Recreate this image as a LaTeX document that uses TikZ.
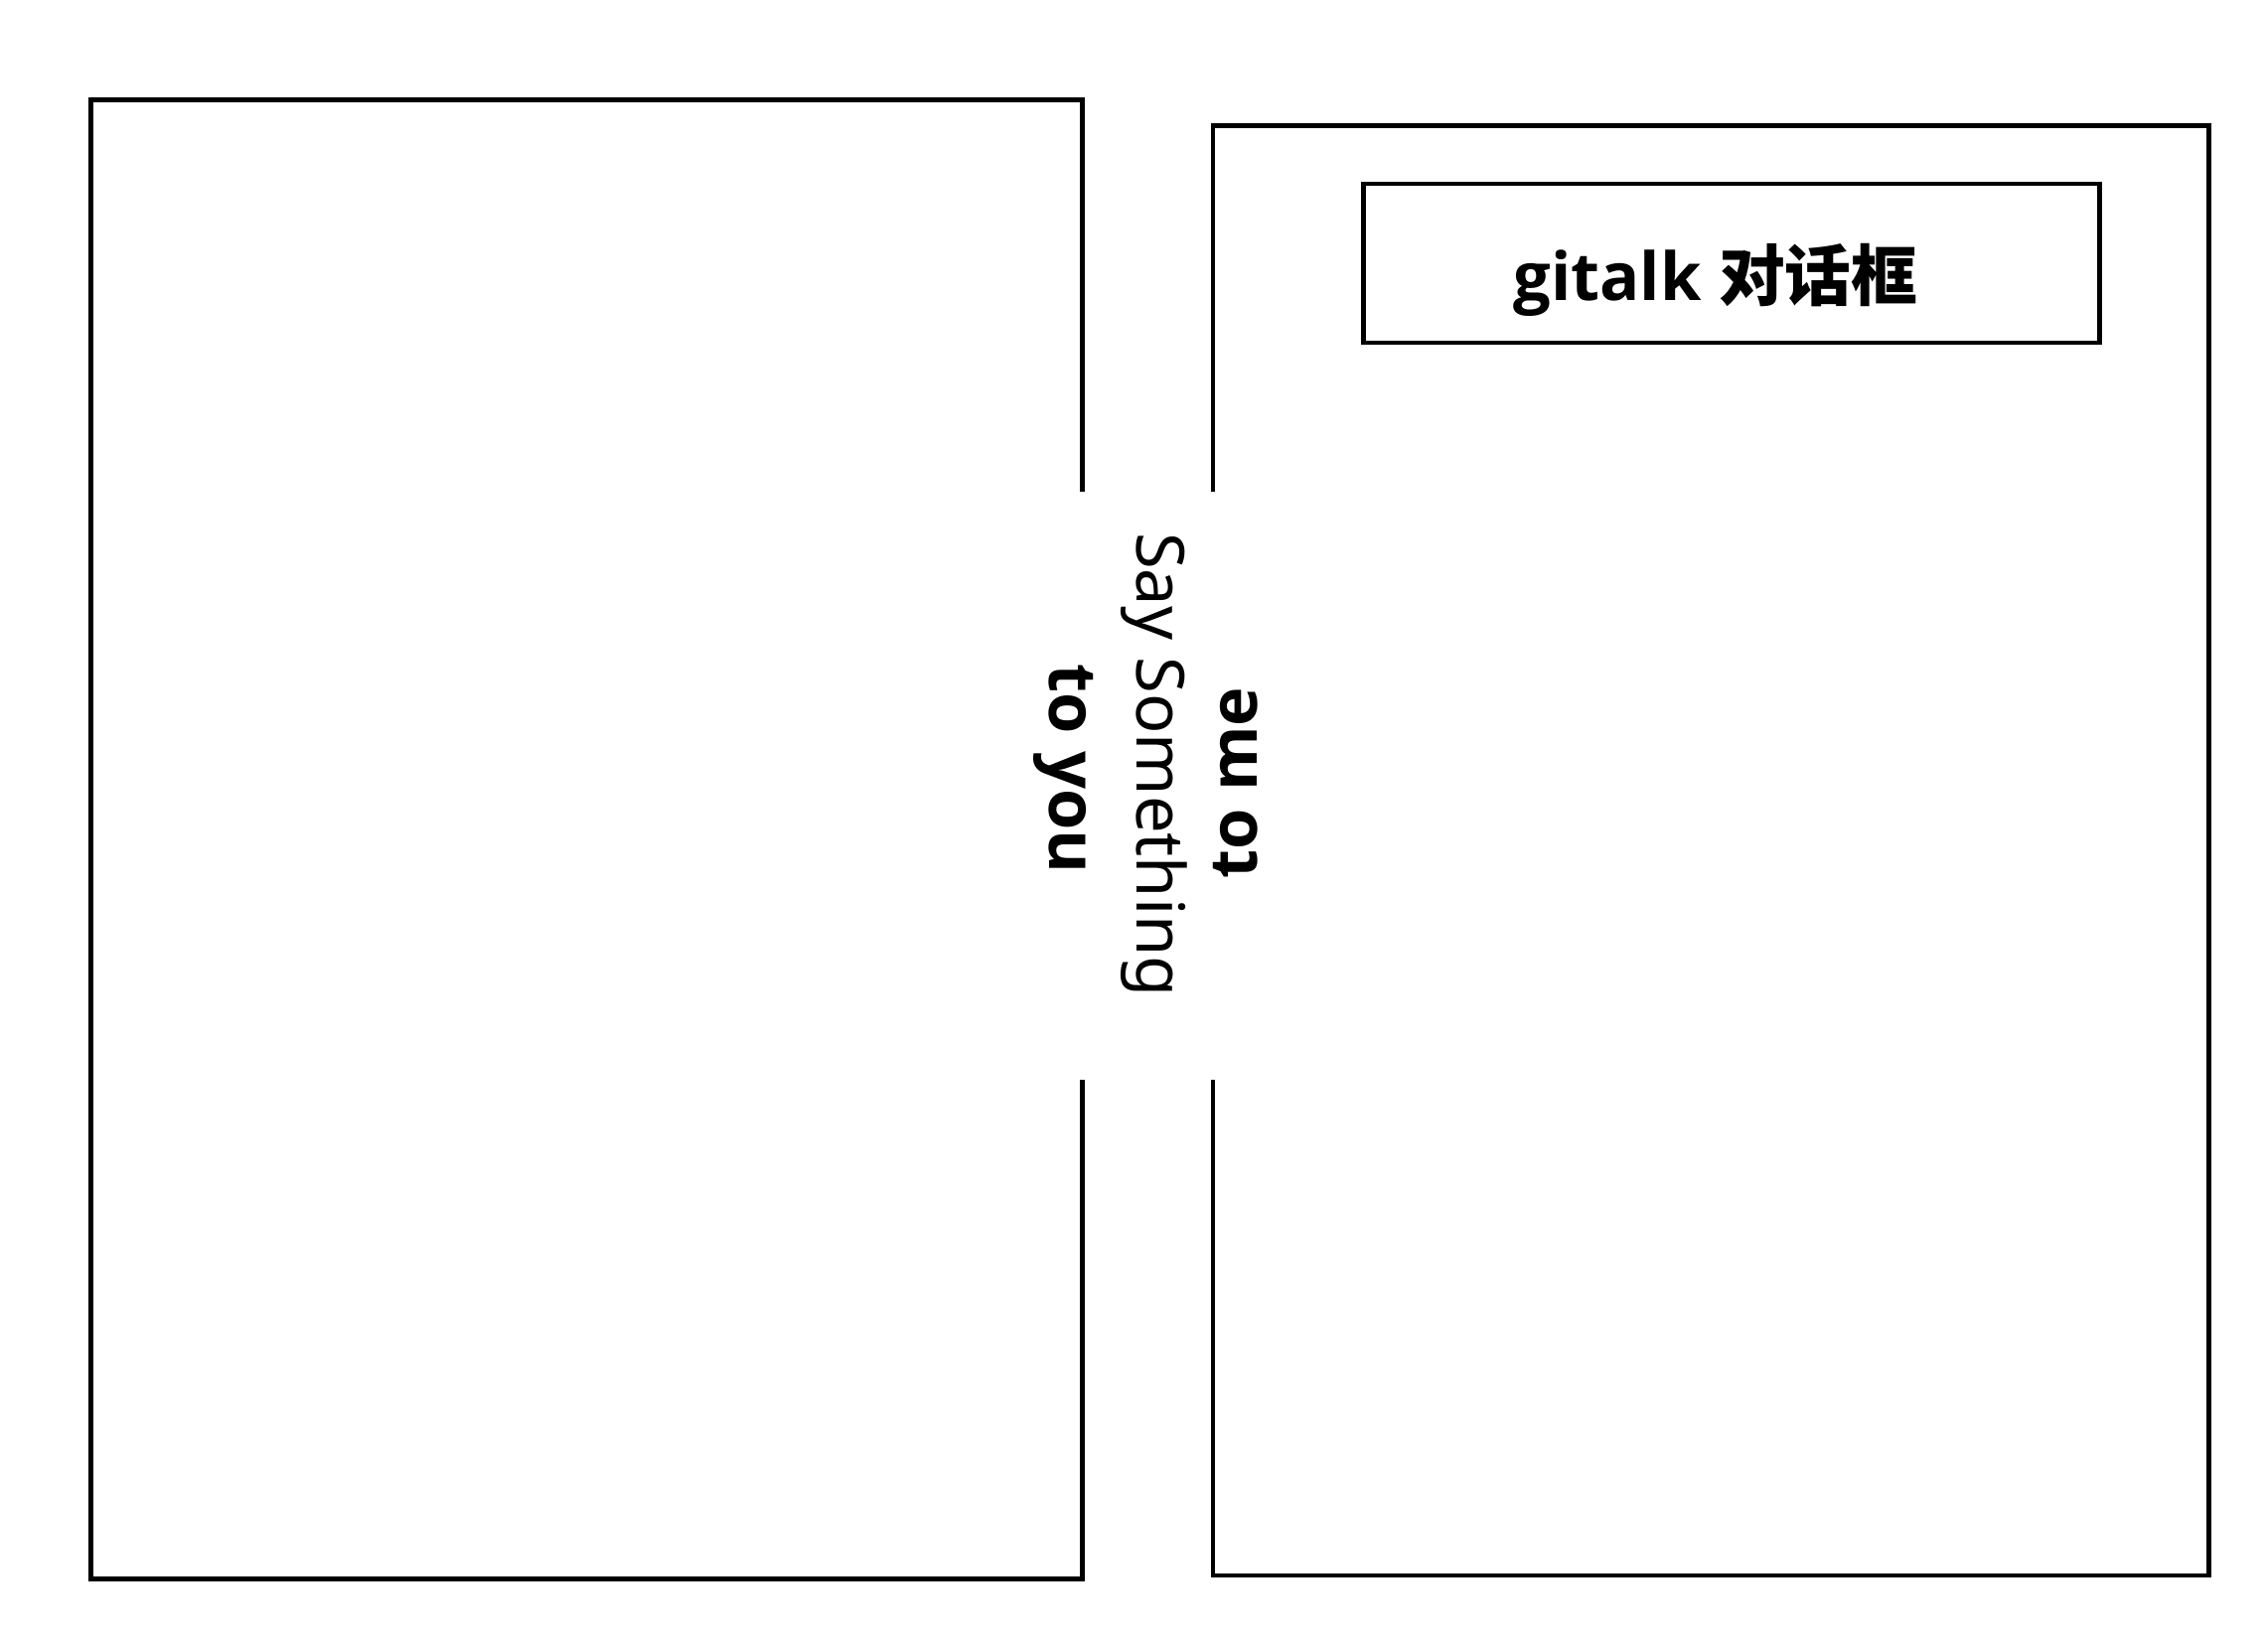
\documentclass[tikz,border=0pt]{standalone}
\usepackage{fontspec}
\setmainfont{Noto Sans}
\newfontfamily\heavysans{Open Sans}
\newfontfamily\cjk{Noto Sans CJK SC}
\usepackage{tikz}

\begin{document}
\begin{tikzpicture}[x=0.1mm, y=0.1mm,
    panel/.style={draw=black, line width=1.4pt},
    dlgbox/.style={draw=black, line width=1.4pt, minimum width=7.408cm, minimum height=1.6cm, inner sep=0pt},
    say/.style={inner sep=0pt, font=\fontsize{19}{23}\selectfont},
    saybold/.style={inner sep=0pt, font=\fontsize{19}{23}\selectfont\heavysans\bfseries}
  ]
            \useasboundingbox (0,0) rectangle (2283,-1656);
            % left panel, open at the middle of its right side
            \draw [panel] (1089.3,-494.7) -- (1089.3,-100.5) -- (91.5,-100.5) -- (91.5,-1589.3) -- (1089.3,-1589.3) -- (1089.3,-1086.7);
            % right panel, open at the middle of its left side
            \draw [panel] (1221,-494.7) -- (1221,-126.7) -- (2223.3,-126.7) -- (2223.3,-1586) -- (1221,-1586) -- (1221,-1086.7);
            \node [dlgbox] (dlg) at (1742.9,-265) {};
            \node [saybold, anchor=base] (dlgtitle) at (1727,-302.7) {gitalk {\cjk 对话框}};
            \node [saybold, rotate=-90] (toyou) at (1071,-774) {to you};
            \node [say, rotate=-90] (saysth) at (1162,-770) {Say Something};
            \node [saybold, rotate=90] (tome) at (1244,-788) {to me};
\end{tikzpicture}
\end{document}
